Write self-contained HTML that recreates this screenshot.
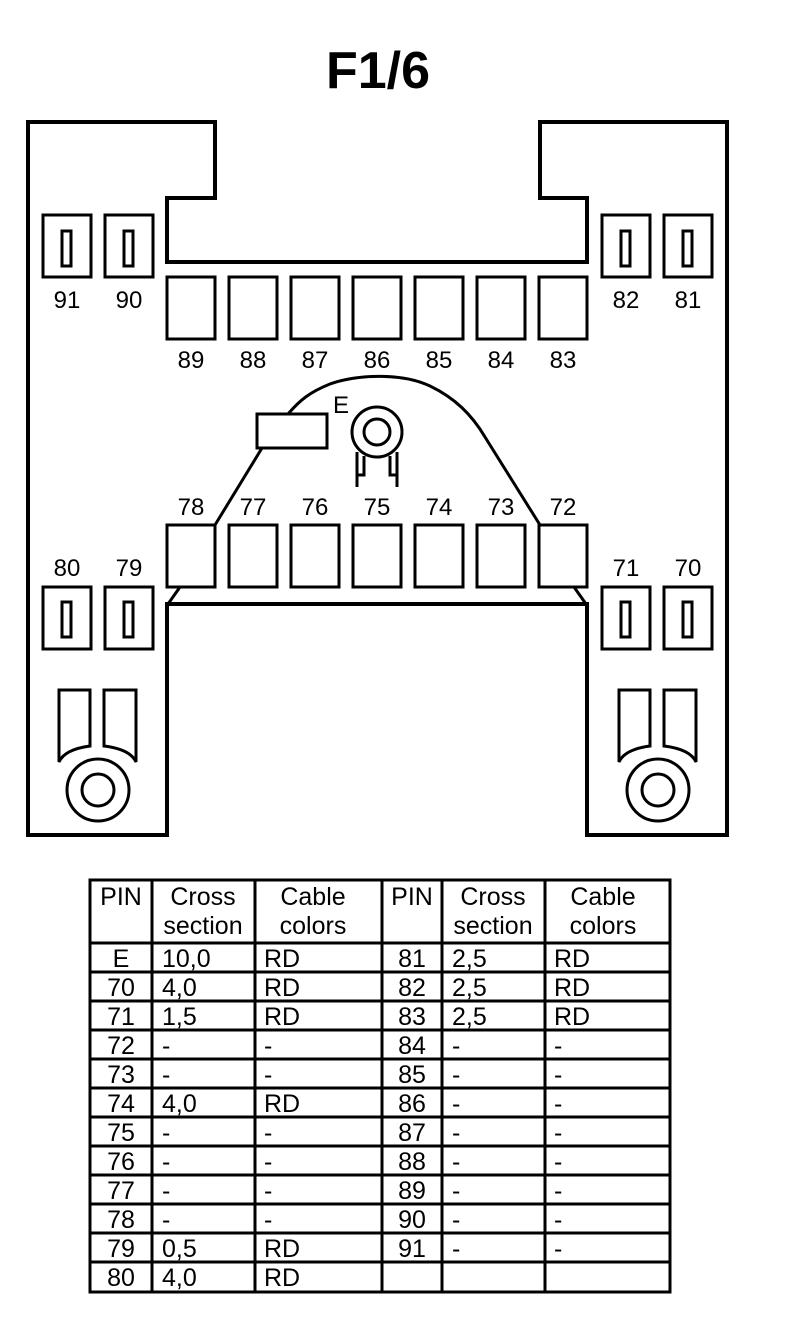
<!DOCTYPE html>
<html><head><style>
body{margin:0;background:#fff;width:800px;height:1324px;overflow:hidden}
svg{display:block}
text{font-family:"Liberation Sans",Arial,sans-serif}
</style></head><body>
<svg width="800" height="1324" viewBox="0 0 800 1324" xmlns="http://www.w3.org/2000/svg">
<text x="378" y="88" font-size="52" font-weight="bold" text-anchor="middle">F1/6</text>
<g fill="none" stroke="#000" stroke-width="4">
<path d="M28,122 H215 V198 H167 V262 H587 V198 H540 V122 H727 V835 H587 V604 H167 V835 H28 Z"/>
</g>
<g fill="none" stroke="#000" stroke-width="3">
<rect x="43" y="215" width="48" height="62"/><rect x="62" y="231" width="9" height="35"/>
<rect x="105" y="215" width="48" height="62"/><rect x="124" y="231" width="9" height="35"/>
<rect x="602" y="215" width="48" height="62"/><rect x="621" y="231" width="9" height="35"/>
<rect x="664" y="215" width="48" height="62"/><rect x="683" y="231" width="9" height="35"/>
<rect x="43" y="587" width="48" height="62"/><rect x="62" y="602" width="9" height="35"/>
<rect x="105" y="587" width="48" height="62"/><rect x="124" y="602" width="9" height="35"/>
<rect x="602" y="587" width="48" height="62"/><rect x="621" y="602" width="9" height="35"/>
<rect x="664" y="587" width="48" height="62"/><rect x="683" y="602" width="9" height="35"/>
<rect x="167" y="277" width="48" height="62"/><rect x="229" y="277" width="48" height="62"/>
<rect x="291" y="277" width="48" height="62"/><rect x="353" y="277" width="48" height="62"/>
<rect x="415" y="277" width="48" height="62"/><rect x="477" y="277" width="48" height="62"/>
<rect x="539" y="277" width="48" height="62"/>
<rect x="167" y="525" width="48" height="62"/><rect x="229" y="525" width="48" height="62"/>
<rect x="291" y="525" width="48" height="62"/><rect x="353" y="525" width="48" height="62"/>
<rect x="415" y="525" width="48" height="62"/><rect x="477" y="525" width="48" height="62"/>
<rect x="539" y="525" width="48" height="62"/>
<path d="M180,587 L168,604"/><path d="M574,587 L586,604"/>
<path d="M215,525 L262,448"/>
<rect x="257" y="414" width="70" height="34"/>
<path d="M288,414 C300,400 310,392 330,384 C355,375 400,372 430,386 C455,398 472,415 485,437 L540,525"/>
<circle cx="377" cy="432" r="25"/><circle cx="377" cy="432" r="13"/>
<path d="M357,452 V487 M364,456 V475 H357 M397,452 V487 M390,456 V475 H397"/>
<path d="M59,744 V690 H90 V746 C75,748 63,753 59,762 Z"/>
<path d="M104,746 V690 H136 V762 C132,753 120,748 104,746 Z"/>
<circle cx="98" cy="790" r="31"/><circle cx="98" cy="790" r="16"/>
<path d="M619,744 V690 H650 V746 C635,748 623,753 619,762 Z"/>
<path d="M664,746 V690 H696 V762 C692,753 680,748 664,746 Z"/>
<circle cx="658" cy="790" r="31"/><circle cx="658" cy="790" r="16"/>
</g>
<g font-size="24" text-anchor="middle">
<text x="67" y="308">91</text><text x="129" y="308">90</text><text x="626" y="308">82</text><text x="688" y="308">81</text>
<text x="191" y="368">89</text><text x="253" y="368">88</text><text x="315" y="368">87</text><text x="377" y="368">86</text><text x="439" y="368">85</text><text x="501" y="368">84</text><text x="563" y="368">83</text>
<text x="191" y="515">78</text><text x="253" y="515">77</text><text x="315" y="515">76</text><text x="377" y="515">75</text><text x="439" y="515">74</text><text x="501" y="515">73</text><text x="563" y="515">72</text>
<text x="67" y="576">80</text><text x="129" y="576">79</text><text x="626" y="576">71</text><text x="688" y="576">70</text>
<text x="341" y="413">E</text>
</g>
<g fill="none" stroke="#000" stroke-width="3">
<rect x="90" y="880" width="580" height="412"/>
<path d="M152,880V1292M255,880V1292M382,880V1292M442,880V1292M545,880V1292"/>
<path d="M90,943H670M90,972H670M90,1001H670M90,1030H670M90,1059H670M90,1088H670M90,1117H670M90,1146H670M90,1175H670M90,1204H670M90,1233H670M90,1262H670"/>
</g>
<g font-size="25">
<g text-anchor="middle">
<text x="121" y="905">PIN</text><text x="203" y="905">Cross</text><text x="203" y="934">section</text><text x="313" y="905">Cable</text><text x="313" y="934">colors</text>
<text x="412" y="905">PIN</text><text x="493" y="905">Cross</text><text x="493" y="934">section</text><text x="603" y="905">Cable</text><text x="603" y="934">colors</text>
<text x="121" y="967">E</text><text x="121" y="996">70</text><text x="121" y="1025">71</text><text x="121" y="1054">72</text><text x="121" y="1083">73</text><text x="121" y="1112">74</text><text x="121" y="1141">75</text><text x="121" y="1170">76</text><text x="121" y="1199">77</text><text x="121" y="1228">78</text><text x="121" y="1257">79</text><text x="121" y="1286">80</text>
<text x="412" y="967">81</text><text x="412" y="996">82</text><text x="412" y="1025">83</text><text x="412" y="1054">84</text><text x="412" y="1083">85</text><text x="412" y="1112">86</text><text x="412" y="1141">87</text><text x="412" y="1170">88</text><text x="412" y="1199">89</text><text x="412" y="1228">90</text><text x="412" y="1257">91</text>
</g>
<text x="162" y="967">10,0</text><text x="264" y="967">RD</text>
<text x="162" y="996">4,0</text><text x="264" y="996">RD</text>
<text x="162" y="1025">1,5</text><text x="264" y="1025">RD</text>
<text x="162" y="1054">-</text><text x="264" y="1054">-</text>
<text x="162" y="1083">-</text><text x="264" y="1083">-</text>
<text x="162" y="1112">4,0</text><text x="264" y="1112">RD</text>
<text x="162" y="1141">-</text><text x="264" y="1141">-</text>
<text x="162" y="1170">-</text><text x="264" y="1170">-</text>
<text x="162" y="1199">-</text><text x="264" y="1199">-</text>
<text x="162" y="1228">-</text><text x="264" y="1228">-</text>
<text x="162" y="1257">0,5</text><text x="264" y="1257">RD</text>
<text x="162" y="1286">4,0</text><text x="264" y="1286">RD</text>
<text x="452" y="967">2,5</text><text x="554" y="967">RD</text>
<text x="452" y="996">2,5</text><text x="554" y="996">RD</text>
<text x="452" y="1025">2,5</text><text x="554" y="1025">RD</text>
<text x="452" y="1054">-</text><text x="554" y="1054">-</text>
<text x="452" y="1083">-</text><text x="554" y="1083">-</text>
<text x="452" y="1112">-</text><text x="554" y="1112">-</text>
<text x="452" y="1141">-</text><text x="554" y="1141">-</text>
<text x="452" y="1170">-</text><text x="554" y="1170">-</text>
<text x="452" y="1199">-</text><text x="554" y="1199">-</text>
<text x="452" y="1228">-</text><text x="554" y="1228">-</text>
<text x="452" y="1257">-</text><text x="554" y="1257">-</text>
</g>
</svg>
</body></html>
